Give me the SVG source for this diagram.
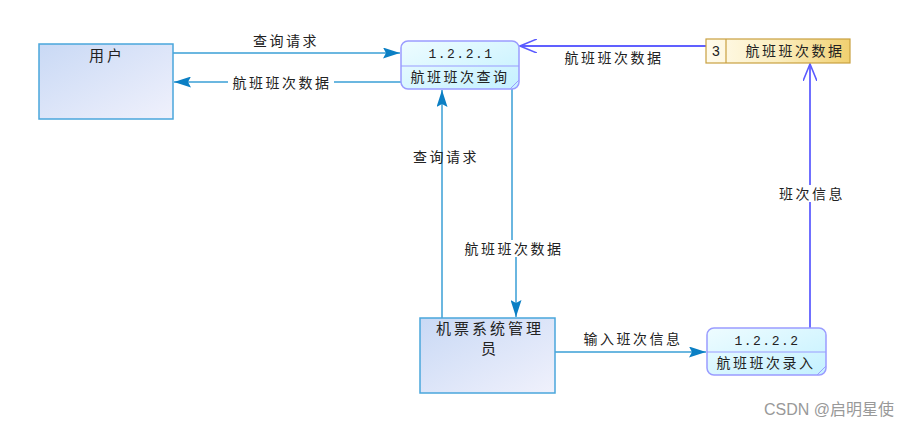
<svg xmlns="http://www.w3.org/2000/svg" width="910" height="427" viewBox="0 0 910 427">
<defs>
<linearGradient id="gEnt" x1="0" y1="0" x2="1" y2="1">
<stop offset="0" stop-color="#c9d9f5"/>
<stop offset="1" stop-color="#f0f1fc"/>
</linearGradient>
<linearGradient id="gProc" x1="0" y1="0" x2="1" y2="1">
<stop offset="0" stop-color="#eefcff"/>
<stop offset="1" stop-color="#c4f1ff"/>
</linearGradient>
<linearGradient id="gStore" x1="0" y1="0" x2="1" y2="0">
<stop offset="0" stop-color="#fffbec"/>
<stop offset="0.5" stop-color="#fbeec0"/>
<stop offset="1" stop-color="#f1d070"/>
</linearGradient>
<marker id="aBlue" markerWidth="17" markerHeight="11" refX="17" refY="5.5" orient="auto" markerUnits="userSpaceOnUse">
<path d="M0,0 L17,5.5 L0,11 L3,5.5 Z" fill="#0b7fc4"/>
</marker>
<marker id="aPurple" markerWidth="18" markerHeight="14" refX="17" refY="7" orient="auto" markerUnits="userSpaceOnUse">
<path d="M0,0 L17,7 L0,14" fill="none" stroke="#5a5aff" stroke-width="1.6"/>
</marker>
</defs>
<style>
text{font-family:"Noto Sans CJK SC","Liberation Sans",sans-serif;font-size:14px;fill:#222;text-anchor:middle;letter-spacing:2.5px}
.num{font-family:"Liberation Mono","DejaVu Sans Mono",monospace;font-size:13px;letter-spacing:1.5px}
.big{font-size:15px;letter-spacing:3px}
.ent{fill:url(#gEnt);stroke:#4aa6dc;stroke-width:1.5}
.proc{fill:url(#gProc);stroke:#9a9cff;stroke-width:1.5}
.store{fill:url(#gStore);stroke:#c8a040;stroke-width:1.2}
.blue{fill:none;stroke:#3a9fd6;stroke-width:1.5;marker-end:url(#aBlue)}
.purple{fill:none;stroke:#6060ff;stroke-width:1.8;marker-end:url(#aPurple)}
.bg{fill:#fff}
.wm{font-family:"Liberation Sans","Noto Sans CJK SC",sans-serif;font-size:16px;fill:#999;text-anchor:end;letter-spacing:0}
</style>
<g id="connectors">
<path class="blue" d="M173,53 L400,53"/>
<path class="blue" d="M401,82 L174,82"/>
<path class="purple" d="M706,46 L520,46"/>
<path class="blue" d="M442,318 L442,90"/>
<path class="blue" d="M512,89 L512,243 L516,247 L516,317"/>
<path class="blue" d="M555,352 L706,352"/>
<path class="purple" d="M810,328 L810,64"/>
<rect class="bg" x="228" y="74" width="106" height="17"/>
<text x="282" y="88">航班班次数据</text>
<text x="286" y="46">查询请求</text>
<text x="614" y="63">航班班次数据</text>
<text x="446" y="162">查询请求</text>
<rect class="bg" x="462" y="240" width="104" height="17"/>
<text x="514" y="254">航班班次数据</text>
<text x="633" y="344">输入班次信息</text>
<rect class="bg" x="775" y="185" width="70" height="17"/>
<text x="812" y="199">班次信息</text>
</g>
<g id="user">
<rect class="ent" x="39" y="44" width="134" height="75"/>
<text class="big" x="107" y="61">用户</text>
</g>
<g id="p1221">
<rect class="proc" x="401" y="41" width="118" height="48" rx="7"/>
<line x1="401" y1="66" x2="519" y2="66" stroke="#9a9cff" stroke-width="1.2"/>
<line x1="510" y1="89" x2="519" y2="80" stroke="#9a9cff" stroke-width="1"/>
<text class="num" x="461" y="58">1.2.2.1</text>
<text x="460" y="82">航班班次查询</text>
</g>
<g id="store3">
<rect class="store" x="706" y="39" width="144" height="24"/>
<line x1="726" y1="39" x2="726" y2="63" stroke="#c8a040" stroke-width="1.2"/>
<text x="716" y="56" style="font-family:'Liberation Sans',sans-serif;letter-spacing:0">3</text>
<text x="795" y="56">航班班次数据</text>
</g>
<g id="admin">
<rect class="ent" x="420" y="318" width="135" height="75"/>
<text class="big" x="490" y="334">机票系统管理</text>
<text class="big" x="490" y="354">员</text>
</g>
<g id="p1222">
<rect class="proc" x="707" y="328" width="119" height="47" rx="7"/>
<line x1="707" y1="352" x2="826" y2="352" stroke="#9a9cff" stroke-width="1.2"/>
<line x1="817" y1="375" x2="826" y2="366" stroke="#9a9cff" stroke-width="1"/>
<text class="num" x="767" y="345">1.2.2.2</text>
<text x="766" y="368">航班班次录入</text>
</g>
<text class="wm" x="894" y="415">CSDN @启明星使</text>
</svg>
